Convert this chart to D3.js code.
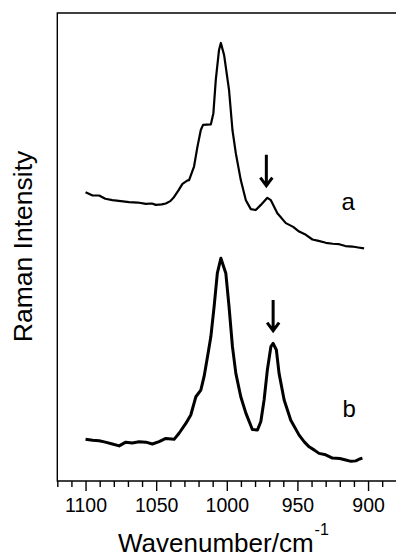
<!DOCTYPE html>
<html>
<head>
<meta charset="utf-8">
<script src="https://cdn.jsdelivr.net/npm/d3@7"></script>
<style>
    body { margin: 0; background: #fff; }
    svg { display: block; font-family: "Liberation Sans", Arial, sans-serif; }
</style>
</head>
<body>
<div id="chart"></div>
<script>
// spectrum a (upper trace), wavenumber / intensity (arb. units, offset)
const wavenumberA = [1100, 1095, 1090.4, 1086, 1081, 1075, 1069.2, 1063, 1057.3, 1053, 1050.3, 1046, 1043.2, 1040, 1037.3,
    1034, 1031.4, 1028, 1026.7, 1023.2, 1020.8, 1018.4, 1016.8, 1011.3, 1009.5, 1007.8, 1005.5, 1004.2, 1001.9,
    998.4, 996, 993.6, 990.1, 986.5, 983, 979.5, 975.9, 971.3, 968.8, 964.2, 958.2, 953, 948.8, 944, 939.4, 935,
    929.9, 925, 920.5, 916, 911.1, 907, 902.8];
const intensityA = [61.7, 61.0, 61.0, 60.3, 60.0, 59.8, 59.6, 59.5, 59.2, 59.3, 59.0, 59.1, 59.3, 59.8, 60.7,
    62.2, 63.5, 64.2, 64.3, 67.2, 71.4, 75.0, 76.1, 76.2, 78.6, 85.7, 92.1, 93.6, 91.0,
    83.5, 75.0, 70.0, 64.3, 60.0, 58.1, 57.9, 59.0, 60.5, 60.0, 57.2, 55.1, 54.3, 53.3, 52.6, 51.6, 51.3,
    50.9, 50.7, 50.6, 50.2, 50.1, 49.9, 49.7];

// spectrum b (lower trace)
const wavenumberB = [1100, 1095, 1090.4, 1086, 1081, 1076.2, 1071.5, 1067, 1062.1, 1057.3, 1052.7, 1047.9, 1043.2, 1037.3,
    1033.8, 1029, 1025.5, 1021.9, 1018.4, 1016.1, 1013.7, 1011.3, 1009, 1006.7, 1004.2, 1000.7, 998.4, 996,
    993.6, 990.1, 986.5, 981.9, 978.3, 975.9, 973.6, 971.3, 968.8, 967.2, 964.9, 963, 959.4, 954.7, 948.8,
    945, 941.7, 938, 934.7, 930, 925.2, 920, 915.8, 912, 908.7, 906, 904];
const intensityB = [8.9, 8.7, 8.6, 8.3, 7.9, 7.5, 8.3, 8.1, 8.4, 8.3, 7.9, 8.4, 9.1, 8.9,
    10.2, 12.3, 14.1, 18.0, 19.4, 22.3, 26.5, 30.8, 37.2, 44.4, 47.6, 44.4, 37.2, 28.7,
    23.0, 18.0, 14.5, 11.0, 10.9, 12.7, 17.3, 23.7, 28.7, 29.4, 28.0, 23.0, 17.3, 13.0, 9.8,
    8.3, 7.3, 6.6, 5.9, 5.6, 4.9, 4.8, 4.5, 4.2, 4.3, 4.7, 4.9];

// axis ticks
const majorTicks = [1100, 1050, 1000, 950, 900];
const minorTicks = d3.range(880, 1121, 10);

// annotations: arrow [wavenumber, top, tip] and trace labels
const arrowSpecs = [[972, 69.7, 62.9], [967.2, 38.7, 31.9]];
const traceLabels = ["a", "b"];
const traceLabelPos = [[914, 57.9], [913.4, 13.7]];

class SpectrumChart {
    constructor(parentElementID) {
        this.parentElementID = parentElementID;
    }

    initVis() {
        let vis = this;
        vis.W = 396;
        vis.H = 559;
        vis.margin = {top: 13, left: 57.3, bottom: 78, right: -1};
        vis.innerRight = vis.W - vis.margin.right;
        vis.innerBottom = vis.H - vis.margin.bottom;

        vis.svg = d3.select("#" + vis.parentElementID).append("svg")
            .attr("width", vis.W)
            .attr("height", vis.H);

        vis.x = d3.scaleLinear()
            .domain([1120, 880])
            .range([vis.margin.left, 396.3]);

        vis.y = d3.scaleLinear()
            .domain([0, 100])
            .range([vis.innerBottom, vis.margin.top]);
    }

    updateVis() {
        let vis = this;

        // frame: left, top, bottom (right edge falls outside the picture)
        vis.svg.append("path")
            .attr("d", "M" + (vis.innerRight + 2) + "," + vis.margin.top +
                "H" + vis.margin.left + "V" + vis.innerBottom + "H" + (vis.innerRight + 2))
            .attr("fill", "none")
            .attr("stroke", "#000")
            .attr("stroke-width", 1.4);

        // minor ticks
        let minorAxis = d3.axisBottom(vis.x)
            .tickValues(minorTicks.filter(d => majorTicks.indexOf(d) < 0))
            .tickSize(6)
            .tickFormat("");
        let gMinor = vis.svg.append("g")
            .attr("transform", "translate(0," + vis.innerBottom + ")")
            .call(minorAxis);
        gMinor.select(".domain").remove();
        gMinor.selectAll("line").attr("stroke-width", 1.4);

        // major ticks + labels
        let majorAxis = d3.axisBottom(vis.x)
            .tickValues(majorTicks)
            .tickSize(10)
            .tickFormat(d3.format("d"));
        let gMajor = vis.svg.append("g")
            .attr("transform", "translate(0," + vis.innerBottom + ")")
            .call(majorAxis);
        gMajor.select(".domain").remove();
        gMajor.selectAll("line").attr("stroke-width", 1.4);
        gMajor.selectAll("text")
            .attr("y", 30.5)
            .attr("dy", 0)
            .attr("fill", "#000")
            .style("font-size", "19.5px")
            .style("font-family", "'Liberation Sans', Arial, sans-serif");

        // traces
        let line = d3.line()
            .x(d => vis.x(d[0]))
            .y(d => vis.y(d[1]));

        let traces = [
            {pts: d3.zip(wavenumberA, intensityA), w: 2.2},
            {pts: d3.zip(wavenumberB, intensityB), w: 3}
        ];
        vis.svg.selectAll(".trace")
            .data(traces)
            .enter().append("path")
            .attr("class", "trace")
            .attr("d", d => line(d.pts))
            .attr("fill", "none")
            .attr("stroke", "#000")
            .attr("stroke-width", d => d.w)
            .attr("stroke-linejoin", "round");

        // arrows marking the shoulder / second band
        vis.svg.selectAll(".arrow")
            .data(arrowSpecs)
            .enter().append("path")
            .attr("class", "arrow")
            .attr("d", d => {
                let ax = vis.x(d[0]), y0 = vis.y(d[1]), y1 = vis.y(d[2]);
                return "M" + ax + "," + y0 + "V" + (y1 - 1) +
                    "M" + (ax - 6) + "," + (y1 - 9) + "L" + ax + "," + (y1 - 1) + "L" + (ax + 6) + "," + (y1 - 9);
            })
            .attr("fill", "none")
            .attr("stroke", "#000")
            .attr("stroke-width", 3);

        // trace labels
        vis.svg.selectAll(".trace-label")
            .data(traceLabels)
            .enter().append("text")
            .attr("class", "trace-label")
            .attr("x", (d, i) => vis.x(traceLabelPos[i][0]))
            .attr("y", (d, i) => vis.y(traceLabelPos[i][1]))
            .attr("text-anchor", "middle")
            .style("font-size", "24px")
            .text(d => d);

        // axis titles
        vis.svg.append("text")
            .attr("transform", "translate(31.5,246.5) rotate(-90)")
            .attr("text-anchor", "middle")
            .style("font-size", "26.5px")
            .text("Raman Intensity");

        let xTitle = vis.svg.append("text")
            .attr("x", 118)
            .attr("y", 552)
            .style("font-size", "26px");
        xTitle.append("tspan").text("Wavenumber/cm");
        xTitle.append("tspan")
            .attr("dy", -17)
            .attr("dx", 1)
            .style("font-size", "16px")
            .text("-1");
    }
}

let chart = new SpectrumChart("chart");
chart.initVis();
chart.updateVis();
</script>
</body>
</html>
